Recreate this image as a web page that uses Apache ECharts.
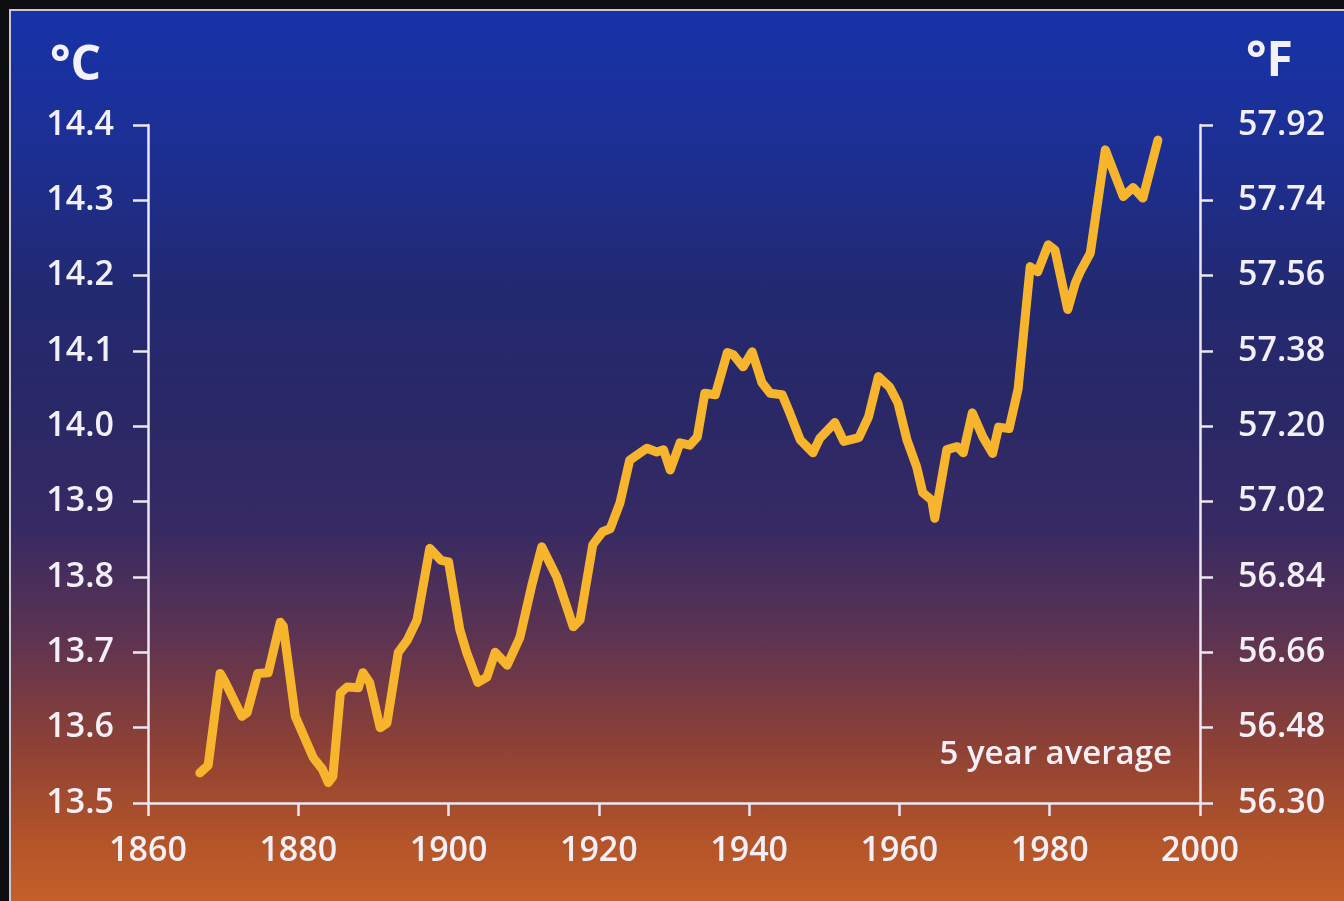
<!DOCTYPE html>
<html>
<head>
<meta charset="utf-8">
<script src="https://cdn.jsdelivr.net/npm/echarts@6/dist/echarts.min.js"></script>
<style>
  html, body { margin: 0; padding: 0; background: #0d0d12; }
  #panel {
    position: absolute; left: 9px; top: 9px; width: 1335px; height: 892px;
    border-top: 2px solid #c9c6d6; border-left: 2px solid #c9c6d6;
    background: linear-gradient(to bottom,
      #1733a8 0%, #1c2f94 15%, #23296f 32%, #2a2867 45%, #372a63 58%,
      #5c3352 70%, #8c4036 82%, #b0522a 92%, #c66028 100%);
  }
  #chart { position: absolute; left: 0; top: 0; width: 1344px; height: 901px; }
</style>
</head>
<body>
<div id="panel"></div>
<div id="chart"></div>
<script>
// Year / temperature (°C) pairs, 5-year average
const years = [
  1866.9, 1868.0, 1869.6, 1870.2, 1872.5, 1873.2, 1874.6, 1876.0, 1877.6, 1878.0,
  1879.6, 1882.0, 1883.2, 1884.0, 1884.6, 1885.6, 1886.5, 1888.0, 1888.6, 1889.5,
  1890.9, 1891.8, 1893.3, 1894.5, 1895.8, 1897.5, 1899.0, 1900.0, 1901.5, 1902.4,
  1903.9, 1905.1, 1906.2, 1907.8, 1909.5, 1911.1, 1912.4, 1914.4, 1916.6, 1917.5,
  1919.2, 1920.5, 1921.5, 1922.8, 1924.1, 1926.4, 1927.7, 1928.6, 1929.5, 1930.8,
  1932.1, 1933.1, 1934.1, 1935.5, 1937.1, 1937.9, 1939.2, 1940.4, 1941.7, 1942.8,
  1944.4, 1945.4, 1946.8, 1948.5, 1949.4, 1951.4, 1952.6, 1954.6, 1955.9, 1957.2,
  1958.7, 1959.8, 1961.0, 1962.3, 1963.1, 1964.3, 1964.7, 1966.3, 1967.7, 1968.5,
  1969.7, 1971.1, 1972.4, 1973.2, 1974.6, 1975.8, 1977.4, 1978.4, 1979.8, 1980.7,
  1982.4, 1983.4, 1984.0, 1985.4, 1987.4, 1989.8, 1991.1, 1992.4, 1994.4
];
const tempC = [
  13.540, 13.550, 13.672, 13.662, 13.615, 13.620, 13.672, 13.673, 13.740, 13.735,
  13.615, 13.560, 13.545, 13.527, 13.535, 13.646, 13.654, 13.653, 13.673, 13.660,
  13.600, 13.606, 13.700, 13.716, 13.743, 13.838, 13.822, 13.820, 13.730, 13.700,
  13.660, 13.667, 13.700, 13.683, 13.720, 13.790, 13.840, 13.800, 13.734, 13.743,
  13.843, 13.860, 13.864, 13.898, 13.955, 13.971, 13.966, 13.969, 13.942, 13.978,
  13.975, 13.986, 14.044, 14.042, 14.098, 14.095, 14.079, 14.099, 14.058, 14.044,
  14.042, 14.018, 13.982, 13.965, 13.984, 14.005, 13.980, 13.985, 14.013, 14.066,
  14.052, 14.031, 13.982, 13.946, 13.912, 13.902, 13.878, 13.969, 13.973, 13.965,
  14.018, 13.986, 13.964, 13.999, 13.997, 14.050, 14.212, 14.205, 14.241, 14.234,
  14.155, 14.190, 14.204, 14.230, 14.367, 14.305, 14.317, 14.303, 14.380
];
const xTicks = [1860, 1880, 1900, 1920, 1940, 1960, 1980, 2000];
const yTicksC = [13.5, 13.6, 13.7, 13.8, 13.9, 14.0, 14.1, 14.2, 14.3, 14.4];
const unitLeft = '°C';
const unitRight = '°F';
const noteText = '5 year average';

const seriesData = years.map((y, i) => [y, tempC[i]]);

const axisColor = '#ece8f2';
const labelStyle = {
  color: '#f2f0f6', fontFamily: 'Open Sans', fontSize: 34, fontWeight: 600
};

const chart = echarts.init(document.getElementById('chart'), null, { renderer: 'canvas' });
chart.setOption({
  backgroundColor: 'transparent',
  animation: false,
  grid: { left: 148, right: 144, top: 125, bottom: 98, containLabel: false },
  xAxis: {
    type: 'value',
    min: xTicks[0], max: xTicks[xTicks.length - 1], interval: 20,
    axisLine: { show: true, lineStyle: { color: axisColor, width: 2.5 } },
    axisTick: { show: true, length: 13, lineStyle: { color: axisColor, width: 2.5 } },
    axisLabel: Object.assign({ margin: 31, formatter: v => String(v) }, labelStyle),
    splitLine: { show: false }
  },
  yAxis: [
    {
      type: 'value', position: 'left',
      min: yTicksC[0], max: yTicksC[yTicksC.length - 1], interval: 0.1,
      axisLine: { show: true, lineStyle: { color: axisColor, width: 2.5 } },
      axisTick: { show: true, length: 15, lineStyle: { color: axisColor, width: 2.5 } },
      axisLabel: Object.assign({ margin: 34, formatter: v => v.toFixed(1) }, labelStyle),
      splitLine: { show: false }
    },
    {
      type: 'value', position: 'right',
      min: yTicksC[0], max: yTicksC[yTicksC.length - 1], interval: 0.1,
      axisLine: { show: true, onZero: false, lineStyle: { color: axisColor, width: 2.5 } },
      axisTick: { show: true, length: 13, lineStyle: { color: axisColor, width: 2.5 } },
      axisLabel: Object.assign({ margin: 38, formatter: v => (v * 1.8 + 32).toFixed(2) }, labelStyle),
      splitLine: { show: false }
    }
  ],
  graphic: [
    {
      type: 'text', left: 50, top: 42,
      style: { text: unitLeft, fill: '#f4f2f8', font: 'bold 48px "Open Sans"' }
    },
    {
      type: 'text', left: 1246, top: 38,
      style: { text: unitRight, fill: '#f4f2f8', font: 'bold 48px "Open Sans"' }
    },
    {
      type: 'text', right: 172, top: 738,
      style: { text: noteText, fill: '#f2f0f6', font: '600 33px "Open Sans"' }
    }
  ],
  series: [
    {
      type: 'line',
      data: seriesData,
      yAxisIndex: 0,
      showSymbol: false,
      smooth: false,
      lineStyle: { color: '#f6b52c', width: 9, join: 'round', cap: 'round' },
      z: 5
    }
  ]
});
</script>
</body>
</html>
